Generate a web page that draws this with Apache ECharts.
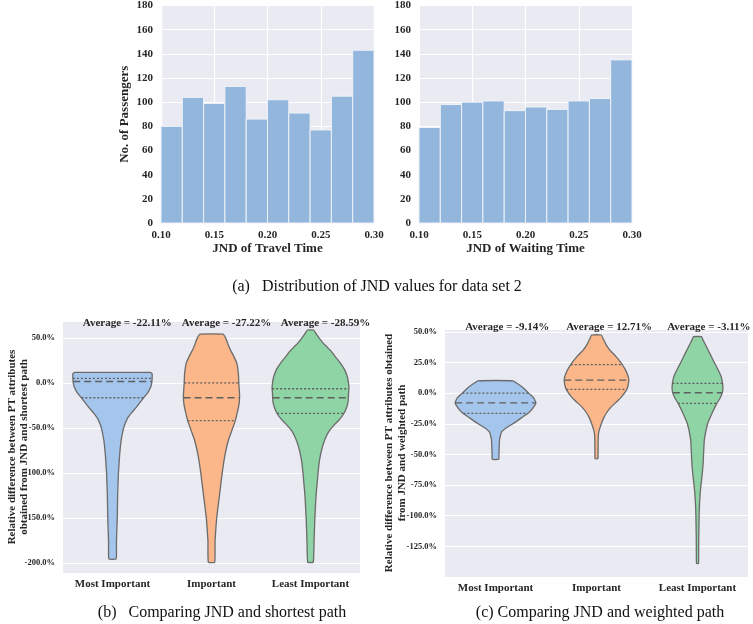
<!DOCTYPE html>
<html>
<head>
<meta charset="utf-8">
<script src="https://cdn.jsdelivr.net/npm/echarts@6/dist/echarts.min.js"></script>
<style>
  html, body { margin: 0; padding: 0; background: #fff; }
  #main { width: 753px; height: 624px; }
</style>
</head>
<body>
<div id="main"></div>
<script>
// histogram data (a)
const binEdges = [0.10, 0.12, 0.14, 0.16, 0.18, 0.20, 0.22, 0.24, 0.26, 0.28, 0.30];
const travelCounts = [80, 104, 99, 113, 86, 102, 91, 77, 105, 143];
const waitingCounts = [79, 98, 100, 101, 93, 96, 94, 101, 103, 135];

// violin data (b) and (c)
const groups = ['Most Important', 'Important', 'Least Important'];
const avgShortest = ['Average = -22.11%', 'Average = -27.22%', 'Average = -28.59%'];
const avgWeighted = ['Average = -9.14%', 'Average = 12.71%', 'Average = -3.11%'];

// outlines: [value in %, relative half width of the density]
const shortestMost = [[11.9, 0.96], [10.5, 1.0], [5, 1.0], [0, 0.99], [-5, 0.96], [-10, 0.9], [-15, 0.81],
  [-20, 0.72], [-27, 0.6], [-33, 0.48], [-39, 0.38], [-45, 0.32], [-50, 0.28], [-63, 0.22], [-80, 0.18],
  [-100, 0.15], [-125, 0.13], [-150, 0.12], [-175, 0.1], [-190, 0.1], [-195.5, 0.09]];
const shortestImp = [[54.4, 0.29], [50, 0.36], [43, 0.42], [36.7, 0.48], [30, 0.56], [22, 0.64], [10, 0.68],
  [0, 0.69], [-15, 0.71], [-25, 0.69], [-33, 0.65], [-42, 0.6], [-52, 0.52], [-63, 0.43], [-80, 0.34],
  [-100, 0.27], [-125, 0.2], [-150, 0.13], [-175, 0.09], [-199, 0.08]];
const shortestLeast = [[59, 0.08], [55, 0.14], [50, 0.22], [45, 0.31], [40, 0.42], [35, 0.53], [28, 0.65],
  [22, 0.76], [15, 0.86], [7, 0.93], [0, 0.96], [-5, 0.97], [-12, 0.96], [-20, 0.95], [-26, 0.92],
  [-34, 0.84], [-40, 0.74], [-45, 0.63], [-52, 0.49], [-60, 0.39], [-71, 0.3], [-85, 0.23], [-100, 0.19],
  [-125, 0.14], [-150, 0.11], [-175, 0.09], [-199, 0.07]];
const weightedMost = [[10, 0.43], [6, 0.62], [3, 0.73], [0, 0.82], [-4, 0.95], [-8, 1.0], [-12, 0.93],
  [-16, 0.82], [-20, 0.65], [-25, 0.43], [-28, 0.28], [-31.6, 0.15], [-35, 0.12], [-38, 0.1], [-45, 0.09],
  [-50, 0.085], [-54, 0.08]];
const weightedImp = [[47.4, 0.12], [44, 0.17], [40, 0.23], [35, 0.33], [30, 0.48], [25, 0.6], [20, 0.7],
  [15, 0.77], [11, 0.8], [6, 0.78], [2.5, 0.74], [-3, 0.62], [-7, 0.5], [-11, 0.37], [-15, 0.27],
  [-20, 0.18], [-25, 0.12], [-30, 0.07], [-33, 0.05], [-40, 0.04], [-53.4, 0.035]];
const weightedLeast = [[46, 0.1], [43, 0.14], [38, 0.22], [32, 0.31], [26, 0.4], [21.5, 0.47], [17, 0.54],
  [13, 0.59], [8, 0.62], [4, 0.63], [0, 0.61], [-4, 0.56], [-8.4, 0.48], [-15, 0.38], [-25, 0.25],
  [-38, 0.17], [-50, 0.15], [-57, 0.14], [-65, 0.12], [-71, 0.1], [-80, 0.07], [-90, 0.05], [-100, 0.04],
  [-120, 0.03], [-139, 0.025]];

// quartiles: [upper, median, lower]
const shortestQuart = [[5.3, 1.8, -16.3], [0.3, -16.3, -41.8], [-6.3, -16.3, -33.7]];
const weightedQuart = [[0, -7.9, -16.6], [23.2, 10.6, 3], [7.9, 0.3, -8.4]];

const violinColors = ['#a4c5ec', '#fbb68a', '#8fd4a4'];
const BG = '#eaeaf2';
const TXT = '#262626';
const SERIF = '"Liberation Serif", "Times New Roman", serif';

function widthAt(prof, v) {
  for (let k = 0; k < prof.length - 1; k++) {
    const a = prof[k], b = prof[k + 1];
    if (v <= a[0] && v >= b[0]) {
      const t = (a[0] - v) / (a[0] - b[0]);
      return a[1] + (b[1] - a[1]) * t;
    }
  }
  return 0;
}

function histSeries(idx, counts) {
  return {
    type: 'custom',
    xAxisIndex: idx,
    yAxisIndex: idx,
    data: counts.map((c, i) => [binEdges[i], binEdges[i + 1], c]),
    encode: { x: [0, 1], y: 2 },
    renderItem: (params, api) => {
      const p0 = api.coord([api.value(0), 0]);
      const p1 = api.coord([api.value(1), api.value(2)]);
      return {
        type: 'rect',
        shape: { x: p0[0], y: p1[1], width: p1[0] - p0[0], height: p0[1] - p1[1] },
        style: { fill: '#93b6dc', stroke: '#eef2f8', lineWidth: 1 }
      };
    }
  };
}

function violinSeries(idx, outlines, quarts, avgs, yTop, textDy) {
  return {
    type: 'custom',
    xAxisIndex: idx,
    yAxisIndex: idx,
    clip: false,
    data: outlines.map((o, i) => [i, 0]),
    encode: { x: 0, y: 1 },
    renderItem: (params, api) => {
      const i = api.value(0);
      const band = api.size([1, 0])[0];
      const half = band * 0.4;
      const cx = api.coord([i, 0])[0];
      const prof = outlines[i];
      const pts = [];
      prof.forEach(p => pts.push([cx + p[1] * half, api.coord([i, p[0]])[1]]));
      prof.slice().reverse().forEach(p => pts.push([cx - p[1] * half, api.coord([i, p[0]])[1]]));
      const children = [{
        type: 'polygon',
        shape: { points: pts, smooth: 0.12 },
        style: { fill: violinColors[i], stroke: '#6b6b6b', lineWidth: 1.3 }
      }];
      quarts[i].forEach((q, k) => {
        const w = widthAt(prof, q) * half;
        const y = api.coord([i, q])[1];
        children.push({
          type: 'line',
          shape: { x1: cx - w, y1: y, x2: cx + w, y2: y },
          style: { stroke: '#5f5f5f', lineWidth: 1.3, lineDash: k === 1 ? [7, 4] : [2, 2] }
        });
      });
      const top = api.coord([i, yTop])[1];
      children.push({
        type: 'text',
        x: cx - band * 0.3,
        y: top + textDy,
        style: {
          text: avgs[i], fill: TXT, font: 'bold 11px ' + SERIF,
          textAlign: 'left', textVerticalAlign: 'middle'
        }
      });
      return { type: 'group', children: children };
    }
  };
}

const histX = (idx, name) => ({
  type: 'value', gridIndex: idx, min: 0.1, max: 0.3, interval: 0.05,
  name: name, nameLocation: 'middle', nameGap: 17,
  nameTextStyle: { fontFamily: SERIF, fontWeight: 'bold', fontSize: 13, color: TXT },
  axisLine: { show: false }, axisTick: { show: false },
  axisLabel: { fontFamily: SERIF, fontWeight: 'bold', fontSize: 11, color: TXT, margin: 7,
    formatter: v => v.toFixed(2) },
  splitLine: { show: true, lineStyle: { color: '#fff', width: 1.2 } }
});
const histY = (idx, name) => ({
  type: 'value', gridIndex: idx, min: 0, max: 180, interval: 20,
  name: name, nameLocation: 'middle', nameGap: 30,
  nameTextStyle: { fontFamily: SERIF, fontWeight: 'bold', fontSize: 13, color: TXT },
  axisLine: { show: false }, axisTick: { show: false },
  axisLabel: { fontFamily: SERIF, fontWeight: 'bold', fontSize: 11, color: TXT, margin: 8 },
  splitLine: { show: true, lineStyle: { color: '#fff', width: 1.2 } }
});
const violinX = idx => ({
  type: 'category', gridIndex: idx, data: groups,
  axisLine: { show: false }, axisTick: { show: false },
  axisLabel: { fontFamily: SERIF, fontWeight: 'bold', fontSize: 11, color: TXT, margin: 6, interval: 0 },
  splitLine: { show: false }
});

const option = {
  animation: false,
  backgroundColor: '#fff',
  grid: [
    { left: 161, top: 5, width: 213, height: 218, show: true, backgroundColor: BG, borderWidth: 0 },
    { left: 419, top: 5, width: 213, height: 218, show: true, backgroundColor: BG, borderWidth: 0 },
    { left: 63, top: 321, width: 297, height: 252, show: true, backgroundColor: BG, borderWidth: 0 },
    { left: 445, top: 329, width: 303, height: 248, show: true, backgroundColor: BG, borderWidth: 0 }
  ],
  xAxis: [
    histX(0, 'JND of Travel Time'),
    histX(1, 'JND of Waiting Time'),
    violinX(2),
    violinX(3)
  ],
  yAxis: [
    histY(0, 'No. of Passengers'),
    histY(1, ''),
    {
      type: 'value', gridIndex: 2, min: -211, max: 69, splitNumber: 5,
      name: 'Relative difference between PT attributes\nobtained from JND and shortest path',
      nameLocation: 'middle', nameGap: 33, nameMoveOverlap: false,
      nameTextStyle: { fontFamily: SERIF, fontWeight: 'bold', fontSize: 11, color: TXT, lineHeight: 12 },
      axisLine: { show: false }, axisTick: { show: false },
      axisLabel: { fontFamily: SERIF, fontWeight: 'bold', fontSize: 8.5, color: TXT, margin: 8,
        showMinLabel: false, showMaxLabel: false, formatter: v => v.toFixed(1) + '%' },
      splitLine: { show: true, lineStyle: { color: '#fff', width: 1.2 } }
    },
    {
      type: 'value', gridIndex: 3, min: -150, max: 52.3, interval: 25,
      name: 'Relative difference between PT attributes obtained\nfrom JND and weighted path',
      nameLocation: 'middle', nameGap: 36, nameMoveOverlap: false,
      nameTextStyle: { fontFamily: SERIF, fontWeight: 'bold', fontSize: 11, color: TXT, lineHeight: 13 },
      axisLine: { show: false }, axisTick: { show: false },
      axisLabel: { fontFamily: SERIF, fontWeight: 'bold', fontSize: 8.5, color: TXT, margin: 8,
        showMinLabel: false, showMaxLabel: false,
        formatter: v => (Math.abs(v % 25) < 1e-6 ? v.toFixed(1) + '%' : '') },
      splitLine: { show: true, lineStyle: { color: '#fff', width: 1.2 } }
    }
  ],
  graphic: [
    { type: 'text', x: 377, y: 287, style: { text: '(a)   Distribution of JND values for data set 2',
      font: '16px ' + SERIF, fill: '#111', textAlign: 'center', textVerticalAlign: 'middle' } },
    { type: 'text', x: 222, y: 613, style: { text: '(b)   Comparing JND and shortest path',
      font: '16px ' + SERIF, fill: '#111', textAlign: 'center', textVerticalAlign: 'middle' } },
    { type: 'text', x: 600, y: 613, style: { text: '(c) Comparing JND and weighted path',
      font: '16px ' + SERIF, fill: '#111', textAlign: 'center', textVerticalAlign: 'middle' } }
  ],
  series: [
    histSeries(0, travelCounts),
    histSeries(1, waitingCounts),
    violinSeries(2, [shortestMost, shortestImp, shortestLeast], shortestQuart, avgShortest, 69, 2),
    violinSeries(3, [weightedMost, weightedImp, weightedLeast], weightedQuart, avgWeighted, 52.3, -2)
  ]
};

const chart = echarts.init(document.getElementById('main'), null, { renderer: 'canvas' });
chart.setOption(option);
</script>
</body>
</html>
